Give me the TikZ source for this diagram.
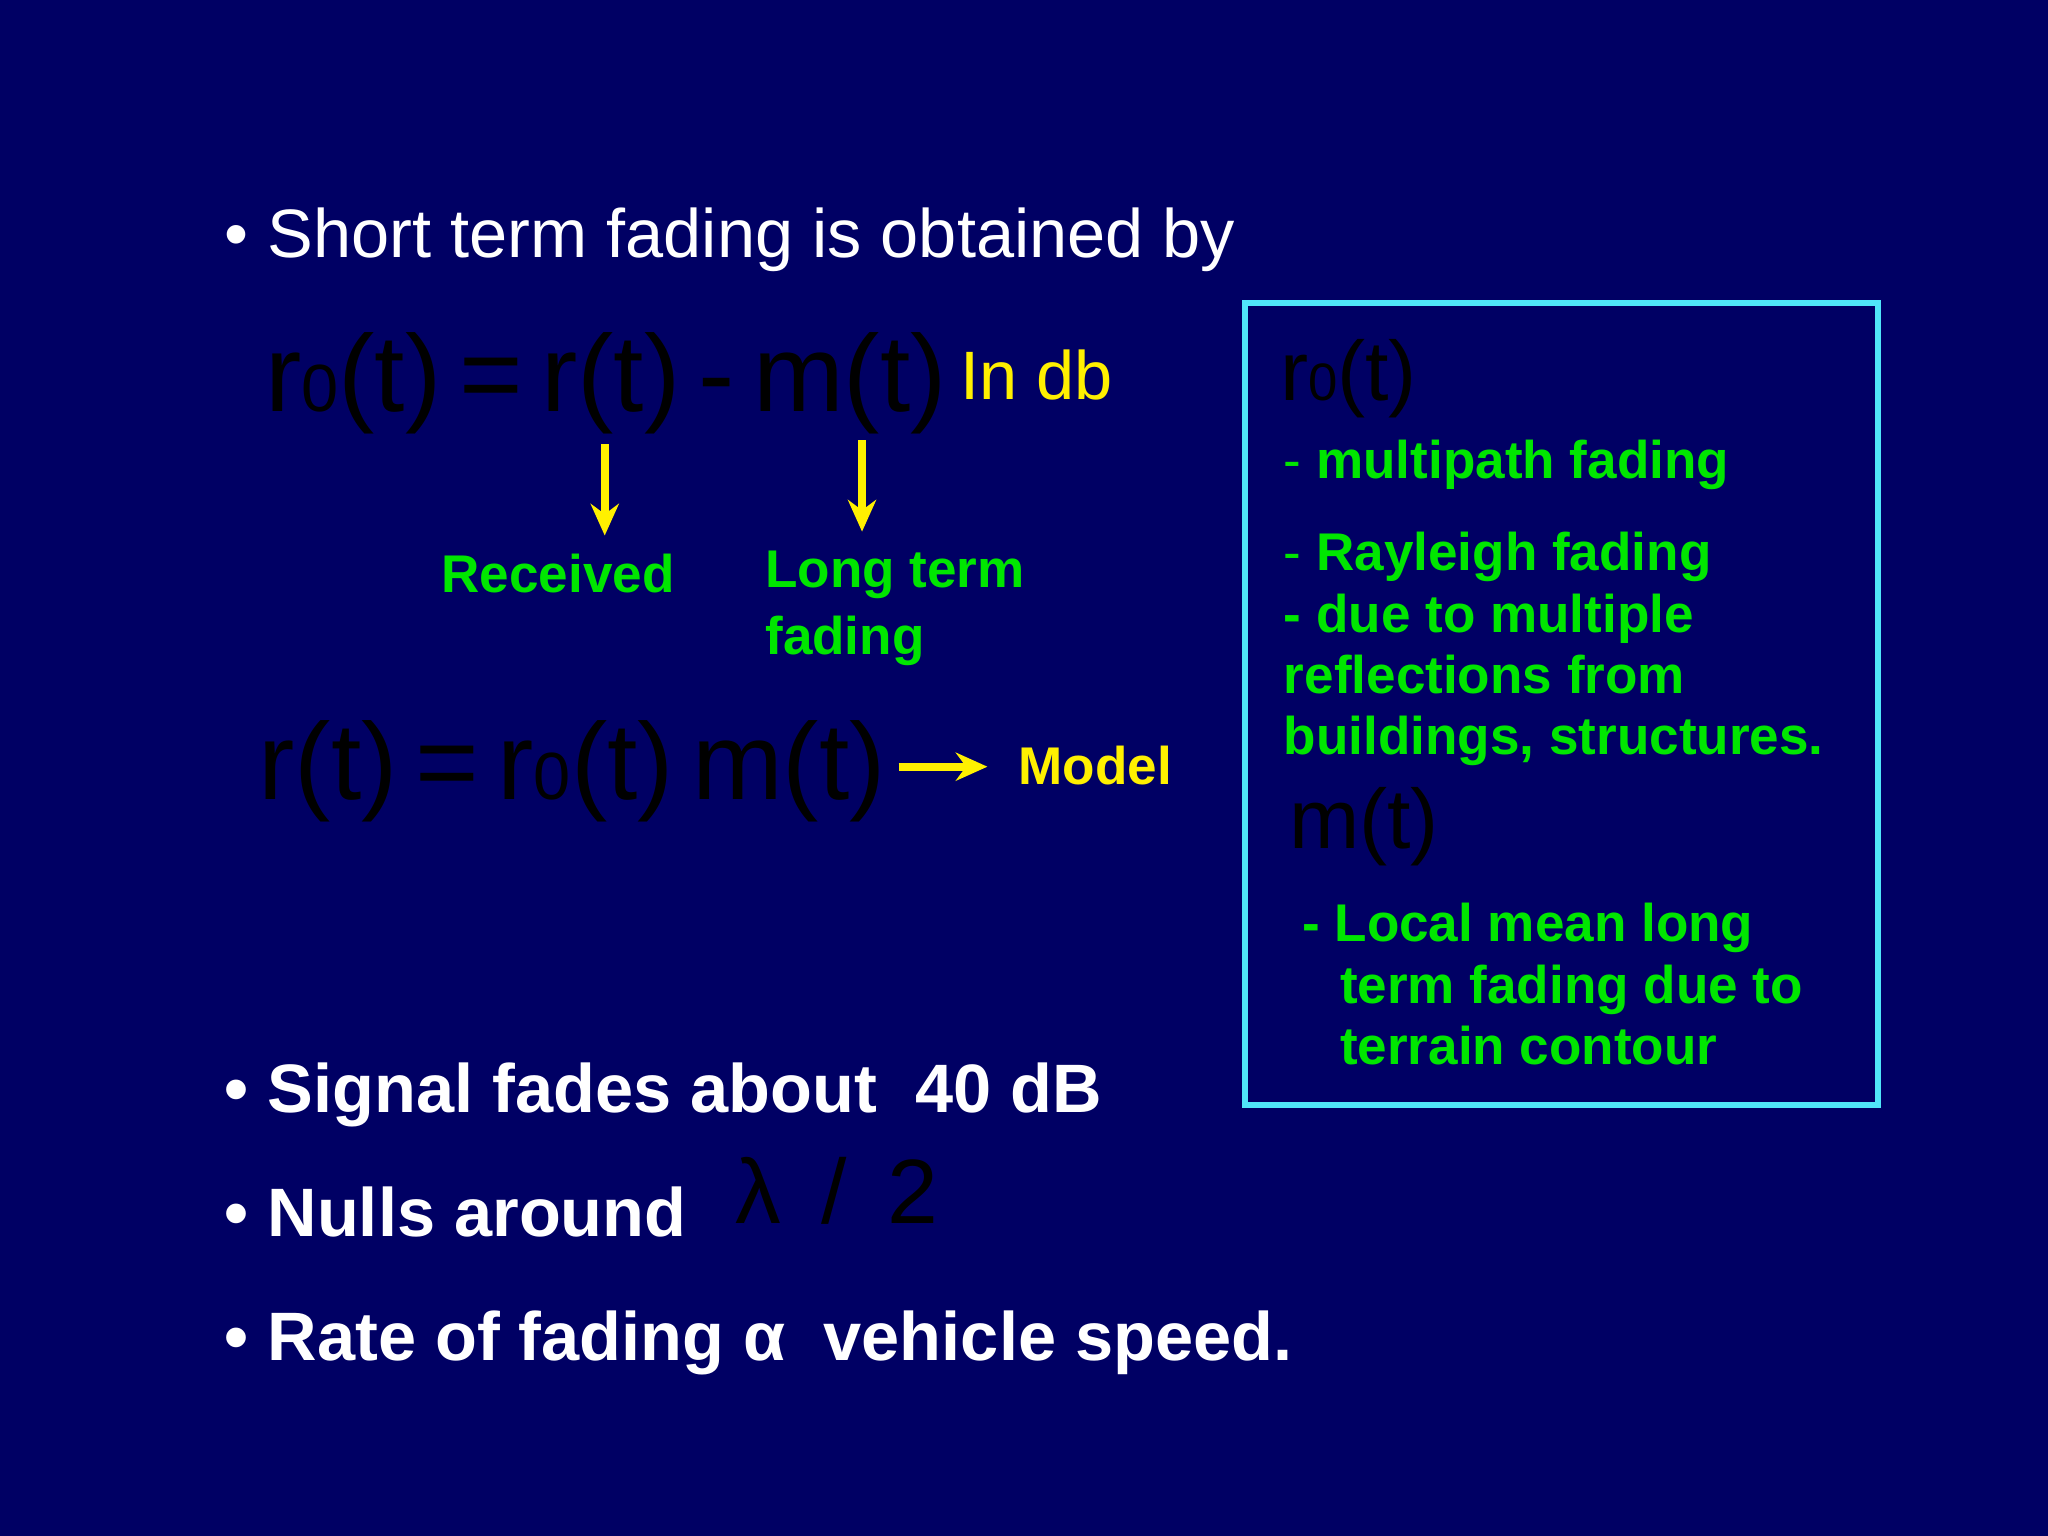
\documentclass[tikz,border=0pt]{standalone}
\usepackage{fontspec}
\setmainfont{Liberation Sans}
\begin{document}
\begin{tikzpicture}[x=0.01306cm,y=-0.01306cm,
 every node/.style={inner sep=0pt,outer sep=0pt,anchor=base west},
 wt/.style={text=white,font=\fontsize{19.5}{24}\selectfont},
 wtb/.style={text=white,font=\fontsize{19.5}{24}\selectfont\bfseries},
 gr/.style={text=grn,font=\fontsize{15.1}{19}\selectfont\bfseries},
 eq/.style={text=black,font=\fontsize{31}{36}\selectfont},
 yl/.style={draw=yel,line width=2.2pt,-{Stealth[length=9pt,width=8pt]}}]
\definecolor{bg}{RGB}{0,0,100}
\definecolor{grn}{RGB}{0,230,0}
\definecolor{yel}{RGB}{255,240,0}
\definecolor{cy}{RGB}{80,230,250}
\usetikzlibrary{arrows.meta}
\fill[bg] (0,0) rectangle (1568,1176);
\useasboundingbox (0,0) rectangle (1568,1176);
\node[wt] (b1) at (172,197) {\textbullet\ Short term fading is obtained by};
\node[eq] (e1) at (203,315) {r{\fontsize{19}{20}\selectfont 0}(t)\,=\,r(t)\,-\,m(t)};
\node[text=yel,font=\fontsize{19.5}{24}\selectfont] (indb) at (735,306) {In db};
\coordinate (a1s) at (463,340); \coordinate (a1e) at (463,410);
\coordinate (a2s) at (660,337); \coordinate (a2e) at (660,407);
\draw[yl] (a1s)--(a1e);
\draw[yl] (a2s)--(a2e);
\node[gr] (rec) at (338,454) {Received};
\node[gr,align=left,anchor=north west] (ltf) at (586,422) {Long term\\fading};
\node[eq] (e2) at (198,612) {r(t)\,=\,r{\fontsize{19}{20}\selectfont 0}(t)\,m(t)};
\coordinate (a3s) at (688,587); \coordinate (a3e) at (756,587);
\draw[yl] (a3s)--(a3e);
\node[text=yel,font=\fontsize{15.1}{19}\selectfont\bfseries] (model) at (780,601) {Model};
\draw[cy,line width=1.8pt] (953,232) rectangle (1438,846);
\node[eq,font=\fontsize{24}{28}\selectfont] (r0) at (980,307) {r{\fontsize{15}{16}\selectfont 0}(t)};
\node[gr] (t1) at (983,366) {\mdseries-\bfseries\ multipath fading};
\node[gr] (t2) at (983,437) {\mdseries-\bfseries\ Rayleigh fading};
\node[gr] (t3) at (983,484) {- due to multiple};
\node[gr] (t4) at (983,531) {reflections from};
\node[gr] (t5) at (983,578) {buildings, structures.};
\node[eq,font=\fontsize{24}{28}\selectfont] (mt) at (987,650) {m(t)};
\node[gr] (t6) at (997,721) {- Local mean long};
\node[gr] (t7) at (1026,768) {term fading due to};
\node[gr] (t8) at (1026,815) {terrain contour};
\node[wtb] (b2) at (172,852) {\textbullet\ Signal fades about\ \ 40 dB};
\node[wtb] (b3) at (172,947) {\textbullet\ Nulls around};
\node[text=black,font=\fontsize{26}{30}\selectfont] (lam) at (563,937) {λ\ \,/\ \,2};
\node[wtb] (b4) at (172,1042) {\textbullet\ Rate of fading α\ \ vehicle speed.};
\end{tikzpicture}
\end{document}
